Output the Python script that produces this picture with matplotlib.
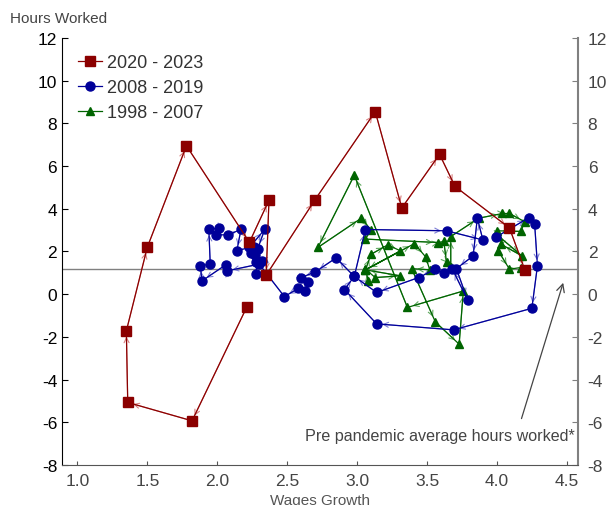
import numpy as np
import matplotlib.pyplot as plt

plt.rcParams['font.family'] = ['Liberation Sans', 'DejaVu Sans']
plt.rcParams['axes.unicode_minus'] = False

# 2020 - 2023 (wages growth, hours worked)
wage_2020 = [2.21, 1.82, 1.36, 1.35, 1.50, 1.78, 2.23, 2.37, 2.35, 2.70,
             3.13, 3.32, 3.59, 3.70, 4.09, 4.20]
hours_2020 = [-0.62, -5.93, -5.07, -1.72, 2.20, 6.95, 2.43, 4.40, 0.89, 4.43,
              8.55, 4.04, 6.55, 5.05, 3.10, 1.14]

# 2008 - 2019
wage_2008 = [3.99, 4.23, 4.27, 4.29, 4.25, 3.69, 3.14, 2.91, 2.98, 3.06,
             3.64, 3.90, 3.86, 3.83, 3.71, 3.79, 3.68, 3.62, 3.56, 3.44,
             3.14, 2.98, 2.85, 2.70, 2.60, 2.65, 2.63, 2.58, 2.48, 2.30,
             2.07, 2.06, 1.89, 1.88, 1.95, 1.94, 2.01, 1.99, 2.08, 2.17,
             2.14, 2.23, 2.34, 2.29, 2.26, 2.24, 2.27, 2.32, 2.28, 2.28]
hours_2008 = [2.66, 3.59, 3.28, 1.33, -0.66, -1.67, -1.39, 0.22, 0.83, 3.03,
              2.97, 2.54, 3.56, 1.79, 1.20, -0.27, 1.20, 0.98, 1.17, 0.78,
              0.08, 0.83, 1.70, 1.04, 0.78, 0.58, 0.15, 0.27, -0.11, 1.41,
              1.09, 1.37, 0.62, 1.33, 1.41, 3.04, 3.09, 2.78, 2.78, 3.04,
              2.03, 2.19, 3.04, 2.14, 2.19, 1.91, 1.84, 1.56, 1.51, 0.94]

# 1998 - 2007
wage_1998 = [3.08, 3.06, 3.13, 3.31, 3.06, 3.10, 3.22, 3.31, 3.06, 3.41,
             3.49, 3.52, 3.39, 3.56, 3.73, 3.76, 3.36, 2.98, 2.72, 3.03,
             3.10, 3.06, 3.58, 3.62, 3.64, 3.67, 3.67, 3.87, 4.04, 4.09,
             4.20, 4.17, 4.00, 4.01, 4.18, 4.03, 4.01, 4.09, 4.17]
hours_1998 = [0.62, 1.17, 0.78, 0.86, 1.14, 1.87, 2.31, 2.03, 1.14, 2.37,
              1.75, 1.14, 1.20, -1.30, -2.34, 0.15, -0.62, 5.57, 2.19, 3.56,
              3.01, 2.58, 2.42, 2.47, 1.51, 1.28, 2.70, 3.56, 3.78, 3.78,
              3.39, 2.94, 2.97, 2.73, 1.79, 2.34, 2.03, 1.17, 1.25]

avg_hours = 1.17

series = [
    ('1998 - 2007', wage_1998, hours_1998, '#006400', '#5fa85f', '^', 6),
    ('2008 - 2019', wage_2008, hours_2008, '#000099', '#7f7fd6', 'o', 6.5),
    ('2020 - 2023', wage_2020, hours_2020, '#8b0000', '#d88080', 's', 6.5),
]

fig = plt.figure(figsize=(6.11, 5.06), dpi=100)
ax = fig.add_axes([0.1015, 0.079, 0.8445, 0.844])

ax.axhline(avg_hours, color='#808080', lw=1, zorder=1)

handles = {}
for name, xs, ys, col, light, mk, ms in series:
    line, = ax.plot(xs, ys, color=col, lw=0.9, marker=mk, markersize=ms,
                    markeredgecolor=col, label=name, zorder=3)
    handles[name] = line
    # light arrow heads at the end of every step
    for i in range(len(xs) - 1):
        ax.annotate('', xy=(xs[i + 1], ys[i + 1]), xytext=(xs[i], ys[i]),
                    arrowprops=dict(arrowstyle='->', color=light, lw=0.8,
                                    shrinkA=0, shrinkB=4, mutation_scale=9),
                    zorder=2)

ax.set_xlim(0.89, 4.58)
ax.set_ylim(-8, 12)
ax.set_xticks([1.0, 1.5, 2.0, 2.5, 3.0, 3.5, 4.0, 4.5])
ax.set_xticklabels(['1.0', '1.5', '2.0', '2.5', '3.0', '3.5', '4.0', '4.5'])
ax.set_yticks(range(-8, 13, 2))

ax.spines['top'].set_visible(False)
ax.spines['right'].set_visible(False)
ax.spines['left'].set_color('black')
ax.spines['bottom'].set_color('#555555')
ax.tick_params(axis='x', direction='in', length=3, color='#555555',
               labelcolor='#444444', labelsize=12.5, pad=6)
ax.tick_params(axis='y', direction='in', length=4, labelsize=12.5,
               labelcolor='black')

ax2 = ax.secondary_yaxis('right')
ax2.set_yticks(range(-8, 13, 2))
ax2.tick_params(direction='in', length=4, labelsize=12.5, labelcolor='#444444',
                color='#808080', pad=7)
ax2.spines['right'].set_color('#808080')
ax2.spines['right'].set_linewidth(1.5)

ax.set_xlabel('Wages Growth', color='#555555', fontsize=11, labelpad=3)
fig.text(0.016, 0.962, 'Hours Worked', color='#444444', fontsize=11,
         ha='left', va='center')

ax.annotate('', xy=(4.48, 0.66), xytext=(4.17, -5.95),
            arrowprops=dict(arrowstyle='->', color='#444444', lw=0.9,
                            mutation_scale=14))
ax.text(4.555, -6.6, 'Pre pandemic average hours worked*', color='#444444',
        fontsize=11.6, ha='right', va='center')

leg = ax.legend([handles['2020 - 2023'], handles['2008 - 2019'], handles['1998 - 2007']],
                ['2020 - 2023', '2008 - 2019', '1998 - 2007'],
                loc='upper left', bbox_to_anchor=(0.0, 1.0), frameon=False,
                fontsize=13, handlelength=1.3, handletextpad=0.3,
                labelspacing=0.45, borderaxespad=0.5, labelcolor='#333333')

fig.savefig('out.png', dpi=100)
